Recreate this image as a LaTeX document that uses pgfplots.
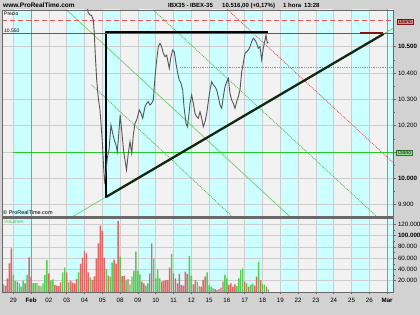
\documentclass[border=0pt]{standalone}
\usepackage{pgfplots}
\pgfplotsset{compat=1.18}
\usepackage{fontspec}
\setmainfont{Liberation Sans}

\definecolor{outbg}{RGB}{210,210,210}
\definecolor{plotbg}{RGB}{242,242,242}
\definecolor{cyanbg}{RGB}{204,255,255}
\definecolor{gridc}{RGB}{205,205,205}
\definecolor{gridm}{RGB}{150,150,150}
\definecolor{framec}{RGB}{105,105,105}
\definecolor{pricec}{RGB}{85,85,85}
\definecolor{redl}{RGB}{240,30,30}
\definecolor{redd}{RGB}{235,85,85}
\definecolor{greenl}{RGB}{40,200,40}
\definecolor{greent}{RGB}{120,210,120}
\definecolor{greendot}{RGB}{80,190,80}
\definecolor{volr}{RGB}{226,100,100}
\definecolor{volg}{RGB}{85,205,85}
\definecolor{darkred}{RGB}{130,20,20}
\definecolor{hypo}{RGB}{15,40,15}

\pgfplotsset{
  panel/.style={
    scale only axis, width=391pt,
    xmin=-5.71, xmax=191.96,
    axis on top, no markers, scaled y ticks=false,
    axis background/.style={fill=plotbg},
    axis line style={framec, line width=0.8pt},
    tick style={framec, line width=0.5pt},
    tick align=outside, major tick length=2.5pt, minor tick length=1.5pt,
    ytick pos=right, yticklabel pos=right,
    tick label style={font=\fontsize{6.2}{7}\selectfont, text=black},
    yticklabel style={xshift=-1pt},
  },
}

\begin{document}
\begin{tikzpicture}[x=1pt,y=1pt]
\useasboundingbox (0,0) rectangle (420,315);
\fill[outbg] (0,0) rectangle (420,315);

% ---------------- price panel ----------------
\begin{axis}[panel, at={(2pt,98pt)}, anchor=south west, height=207pt,
  ymin=9853, ymax=10639.5, xmajorticks=false,
  ytick={9900,10000,10100,10200,10300,10400,10500},
  yticklabels={9.900,\textbf{10.000},,10.200,10.300,10.400,\textbf{10.500}},
  minor y tick num=1]
% day bands
\fill[cyanbg] (axis cs:0,9800) rectangle (axis cs:9,10700);
\fill[cyanbg] (axis cs:27,9800) rectangle (axis cs:36,10700);
\fill[cyanbg] (axis cs:45,9800) rectangle (axis cs:54,10700);
\fill[cyanbg] (axis cs:63,9800) rectangle (axis cs:72,10700);
\fill[cyanbg] (axis cs:81,9800) rectangle (axis cs:90,10700);
\fill[cyanbg] (axis cs:99,9800) rectangle (axis cs:108,10700);
\fill[cyanbg] (axis cs:117,9800) rectangle (axis cs:126,10700);
\fill[cyanbg] (axis cs:135,9800) rectangle (axis cs:144,10700);
\fill[cyanbg] (axis cs:153,9800) rectangle (axis cs:162,10700);
\fill[cyanbg] (axis cs:171,9800) rectangle (axis cs:180,10700);
\fill[cyanbg] (axis cs:189,9800) rectangle (axis cs:200,10700);
% grid
\pgfplotsinvokeforeach{9900,10000,10100,10200,10300,10400,10500}{
  \draw[gridc, line width=0.6pt] (axis cs:-10,#1) -- (axis cs:200,#1);}
\pgfplotsinvokeforeach{0,18,27,36,45,54,63,72,81,90,99,108,117,126,135,144,153,162,171,180}{
  \draw[gridc, line width=0.7pt] (axis cs:#1,9800) -- (axis cs:#1,10700);}
\draw[gridm, line width=0.9pt] (axis cs:9,9800) -- (axis cs:9,10700);
\draw[gridm, line width=0.9pt] (axis cs:189,9800) -- (axis cs:189,10700);

% trend / channel lines
\addplot[greent, line width=0.8pt] coordinates {(28.67,9848.6) (191.96,10569.7)};
\addplot[greent, line width=0.8pt] coordinates {(25,10653.4) (141,9846)};
\addplot[greendot, line width=0.9pt, densely dotted] coordinates {(39.64,10354.5) (110.8,9854)};
\addplot[greendot, line width=0.9pt, densely dotted] coordinates {(70,10645) (184,9852.5)};
\addplot[redd, line width=0.9pt, densely dotted] coordinates {(108,10643.3) (191.96,10060)};
\addplot[greendot, line width=0.8pt, densely dotted] coordinates {(84.28,10422) (191.96,10422)};
\addplot[redd, line width=1pt, dash pattern=on 5pt off 3pt] coordinates {(-5.71,10598) (191.96,10598)};
\addplot[greenl, line width=1.2pt] coordinates {(0,10097) (191.96,10097)};
% triangle
\addplot[hypo, line width=2.3pt, line join=round, line cap=round] coordinates {(46.87,9929) (187.05,10548)};
\addplot[black, line width=2pt, line join=round] coordinates {(46.87,9929) (46.87,10556) (128.76,10556)};
\addplot[redl, line width=1.2pt] coordinates {(-5.71,10550) (191.96,10550)};
\addplot[darkred, line width=1.6pt] coordinates {(175.3,10551) (187.05,10551)};
% price (hourly close)
\addplot[pricec, line width=0.9pt] coordinates {
(37.01,10658.5) (37.92,10629.2) (38.78,10620.5) (39.64,10618.6) (40.44,10601.5)
(40.95,10551) (41.46,10468.5) (42.16,10373.5) (42.97,10305) (43.83,10259.5)
(44.34,10209) (45.10,10126.5) (45.60,10050.5) (46.11,9989.7) (46.87,10024)
(47.52,10077) (48.38,10107.5) (49.39,10202.5) (50.25,10171) (51.06,10145.5)
(51.92,10126.5) (52.58,10101) (53.34,10172) (54.04,10240.5) (54.95,10171)
(55.71,10107.5) (56.47,10069.5) (57.23,10031.5) (58.14,10095) (59.00,10139)
(59.86,10095) (60.67,10164.5) (61.53,10209) (62.39,10221.5) (63.70,10259.5)
(64.56,10247) (65.42,10228) (66.58,10272) (67.44,10285) (68.25,10291)
(69.11,10278.5) (69.97,10285) (70.78,10297.5) (71.64,10386) (72.50,10449.5)
(73.31,10500) (74.17,10513) (75.03,10500) (75.84,10475) (76.69,10462)
(77.55,10468.5) (78.36,10437) (78.87,10418) (79.58,10457) (80.59,10487.5)
(81.40,10480) (82.25,10437) (83.11,10399) (83.92,10373.5) (84.78,10361)
(85.64,10335.5) (86.30,10272) (87.31,10209) (87.97,10196) (88.68,10234)
(89.33,10285) (90.19,10316.5) (91.00,10285) (91.86,10247) (92.72,10234)
(93.53,10228) (94.39,10253) (95.25,10228) (96.06,10196) (96.92,10215)
(97.78,10247) (98.58,10291) (99.44,10335.5) (100.30,10367) (101.11,10354.5)
(101.97,10348) (102.83,10335.5) (103.64,10310) (104.50,10278.5) (105.36,10266)
(106.17,10310) (107.03,10348) (107.89,10367) (108.70,10380) (109.56,10323)
(110.41,10297.5) (111.22,10285) (112.08,10266) (112.94,10291) (113.75,10310)
(114.61,10335.5) (115.47,10405) (116.28,10437) (117.14,10475) (118.00,10481)
(118.81,10487.5) (119.67,10500) (120.53,10519) (121.33,10532) (122.19,10525.5)
(123.05,10513) (123.86,10494) (124.72,10500) (125.58,10449.5) (126.39,10494)
(127.25,10525.5) (127.76,10544.5) (128.41,10514) (128.92,10516)};
\end{axis}

% ---------------- volume panel ----------------
\begin{axis}[panel, at={(2pt,23pt)}, anchor=south west, height=74pt,
  ymin=0, ymax=131000,
  ytick={20000,40000,60000,80000,100000,120000},
  yticklabels={20.000,40.000,60.000,80.000,\textbf{100.000},120.000},
  minor y tick num=1,
  xtick pos=left,
  xtick={0,9,18,27,36,45,54,63,72,81,90,99,108,117,126,135,144,153,162,171,180,189},
  xticklabels={29,\textbf{Feb},02,03,04,05,08,09,10,11,12,15,16,17,18,19,22,23,24,25,26,\textbf{Mar}}]
\fill[cyanbg] (axis cs:0,-1000) rectangle (axis cs:9,140000);
\fill[cyanbg] (axis cs:27,-1000) rectangle (axis cs:36,140000);
\fill[cyanbg] (axis cs:45,-1000) rectangle (axis cs:54,140000);
\fill[cyanbg] (axis cs:63,-1000) rectangle (axis cs:72,140000);
\fill[cyanbg] (axis cs:81,-1000) rectangle (axis cs:90,140000);
\fill[cyanbg] (axis cs:99,-1000) rectangle (axis cs:108,140000);
\fill[cyanbg] (axis cs:117,-1000) rectangle (axis cs:126,140000);
\fill[cyanbg] (axis cs:135,-1000) rectangle (axis cs:144,140000);
\fill[cyanbg] (axis cs:153,-1000) rectangle (axis cs:162,140000);
\fill[cyanbg] (axis cs:171,-1000) rectangle (axis cs:180,140000);
\fill[cyanbg] (axis cs:189,-1000) rectangle (axis cs:200,140000);
\pgfplotsinvokeforeach{20000,40000,60000,80000,100000,120000}{
  \draw[gridc, line width=0.6pt] (axis cs:-10,#1) -- (axis cs:200,#1);}
\pgfplotsinvokeforeach{0,18,27,36,45,54,63,72,81,90,99,108,117,126,135,144,153,162,171,180}{
  \draw[gridc, line width=0.7pt] (axis cs:#1,-1000) -- (axis cs:#1,140000);}
\draw[gridm, line width=0.9pt] (axis cs:9,-1000) -- (axis cs:9,140000);
\draw[gridm, line width=0.9pt] (axis cs:189,-1000) -- (axis cs:189,140000);

\addplot[ybar, bar width=0.72, bar shift=0pt, fill=volr, draw=none] coordinates {
(-4,11200) (-3,24200) (-2,50700) (-1,77300) (2,18300) (6,15300) (8,61400) (9,27100)
(13,11200) (18,33000) (21,12400) (22,11200) (23,10600) (24,17100) (27,34800) (29,20000)
(30,16500) (31,15300) (32,23000) (34,49600) (35,60800) (36,72600) (37,68400) (38,34800)
(40,21200) (41,27700) (42,59600) (43,86100) (44,117400) (45,108000) (46,60800) (48,28900)
(51,57200) (52,49600) (53,125700) (55,28300) (56,28300) (58,23000) (65,18300) (66,15300)
(69,33000) (70,86100) (75,18300) (76,19500) (77,21200) (78,21200) (79,43100) (81,33000)
(82,24200) (83,15300) (84,31900) (85,12400) (86,11200) (87,36000) (88,31900) (91,13600)
(92,21200) (95,9400) (96,21200) (97,27100) (102,5300) (103,3500) (104,5300) (105,7700)
(106,18300) (109,12400) (110,15300) (111,9400) (112,13600) (117,18300) (119,9400)
(122,11200) (123,27100) (125,21000) (128,9400)};
\addplot[ybar, bar width=0.72, bar shift=0pt, fill=volg, draw=none] coordinates {
(-5,13600) (0,30100) (1,19500) (3,15300) (4,9400) (5,19500) (7,30100) (10,15900)
(11,15900) (12,15900) (14,10600) (15,15300) (16,30100) (17,56600) (19,20700) (20,22400)
(25,34200) (26,43000) (28,17100) (33,34800) (39,26000) (47,40700) (49,27100) (50,51900)
(54,62500) (57,20700) (59,13600) (60,27100) (61,37200) (62,71400) (63,37200) (64,31300)
(67,11200) (68,15300) (71,59600) (72,24200) (73,40100) (74,24200) (80,67300) (89,63700)
(90,28900) (93,18300) (94,10600) (98,34800) (99,12400) (100,9400) (101,6500) (107,30100)
(108,24200) (113,10600) (114,24200) (115,38900) (116,41900) (118,15300) (120,12400)
(121,14700) (124,53700) (126,14000) (127,13000) (129,4500)};
\end{axis}

% separator between the panels
\fill[framec] (2,96.6) rectangle (393,98.6);

% ---------------- texts ----------------
\node[anchor=base west, inner sep=0pt, font=\fontsize{6.5}{7}\selectfont\bfseries] at (3,307.5) {www.ProRealTime.com};
\begin{scope}[every node/.style={inner sep=0pt, anchor=base west, font=\fontsize{6}{7}\selectfont\bfseries}]
\node at (168,307.5) {IBX35 - IBEX-35};
\node at (222,307.5) {10.516,00 (+0,17\%)};
\node at (283,307.5) {1 hora};
\node at (304,307.5) {13:28};
\end{scope}
\node[anchor=west, inner sep=0pt, font=\fontsize{5}{6}\selectfont] at (4,301.3) {Precio};
\node[anchor=west, inner sep=0pt, font=\fontsize{5}{6}\selectfont] at (4,283.8) {10.550};
\node[anchor=west, inner sep=0pt, font=\fontsize{5.5}{6}\selectfont] at (3,102.5) {© ProRealTime.com};
\node[anchor=west, inner sep=0pt, font=\fontsize{5}{6}\selectfont, text={rgb,255:red,80;green,190;blue,80}] at (4,93.5) {Volumen};
\node[fill={rgb,255:red,240;green,135;blue,135}, draw=darkred, line width=0.4pt,
  font=\fontsize{5}{6}\selectfont, inner xsep=1.5pt, inner ysep=0.9pt] at (405.3,293.4) {Diario};
\node[fill={rgb,255:red,150;green,228;blue,150}, draw={rgb,255:red,50;green,110;blue,50}, line width=0.4pt,
  font=\fontsize{5}{6}\selectfont, inner xsep=1.5pt, inner ysep=0.9pt] at (404.6,162.3) {Diario};
\end{tikzpicture}
\end{document}
